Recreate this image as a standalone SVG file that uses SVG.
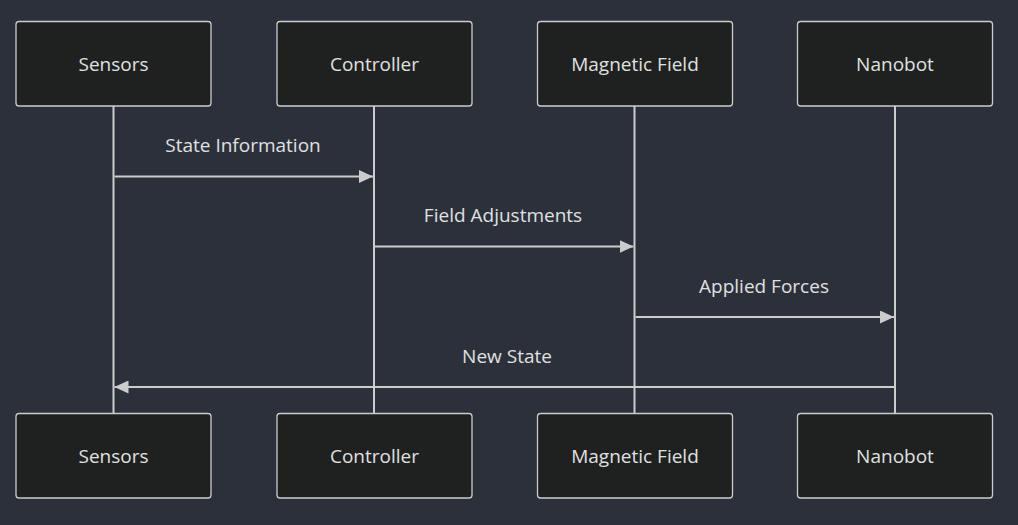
<svg xmlns="http://www.w3.org/2000/svg" width="1018" height="525" viewBox="0 0 1018 525">
<style>
.actor{fill:#1f2020;stroke:#cccccc;stroke-width:1.3}
.atext{fill:#e0e0e0;font-family:"Open Sans","Noto Sans",sans-serif;font-size:19px;font-weight:500;text-anchor:middle;dominant-baseline:central}
.life{stroke:#cccccc;stroke-width:2}
.msg{stroke:#cccccc;stroke-width:2;fill:none}
.mtext{fill:#e0e0e0;font-family:"Open Sans","Noto Sans",sans-serif;font-size:19px;font-weight:500;text-anchor:middle;dominant-baseline:central}
</style>
<defs>
<marker id="arrow" viewBox="0 0 14 13" refX="14" refY="6.5" markerWidth="14" markerHeight="13" markerUnits="userSpaceOnUse" orient="auto">
<path d="M0,0 L14,6.5 L0,13 z" fill="#cccccc"/>
</marker>
</defs>
<rect width="1018" height="525" fill="#2b303b"/>
<g id="lifelines">
<line class="life" x1="113.5" y1="106" x2="113.5" y2="413"/>
<line class="life" x1="374" y1="106" x2="374" y2="413"/>
<line class="life" x1="634.5" y1="106" x2="634.5" y2="413"/>
<line class="life" x1="895" y1="106" x2="895" y2="413"/>
</g>
<g id="sensors-top"><rect class="actor" x="16" y="21.5" width="195" height="84.5" rx="3"/><text class="atext" x="113.5" y="64">Sensors</text></g>
<g id="controller-top"><rect class="actor" x="277" y="21.5" width="195" height="84.5" rx="3"/><text class="atext" x="374.5" y="64">Controller</text></g>
<g id="field-top"><rect class="actor" x="537.5" y="21.5" width="195" height="84.5" rx="3"/><text class="atext" x="635" y="64">Magnetic Field</text></g>
<g id="nanobot-top"><rect class="actor" x="797.5" y="21.5" width="195" height="84.5" rx="3"/><text class="atext" x="895" y="64">Nanobot</text></g>
<g id="sensors-bottom"><rect class="actor" x="16" y="413.5" width="195" height="84.5" rx="3"/><text class="atext" x="113.5" y="456">Sensors</text></g>
<g id="controller-bottom"><rect class="actor" x="277" y="413.5" width="195" height="84.5" rx="3"/><text class="atext" x="374.5" y="456">Controller</text></g>
<g id="field-bottom"><rect class="actor" x="537.5" y="413.5" width="195" height="84.5" rx="3"/><text class="atext" x="635" y="456">Magnetic Field</text></g>
<g id="nanobot-bottom"><rect class="actor" x="797.5" y="413.5" width="195" height="84.5" rx="3"/><text class="atext" x="895" y="456">Nanobot</text></g>
<g id="connectors">
<line class="msg" x1="114.5" y1="176.5" x2="373" y2="176.5" marker-end="url(#arrow)"/>
<text class="mtext" x="243" y="145">State Information</text>
<line class="msg" x1="375" y1="246.5" x2="633.5" y2="246.5" marker-end="url(#arrow)"/>
<text class="mtext" x="503" y="215">Field Adjustments</text>
<line class="msg" x1="635.5" y1="317" x2="894" y2="317" marker-end="url(#arrow)"/>
<text class="mtext" x="764" y="286">Applied Forces</text>
<line class="msg" x1="894" y1="387" x2="114.5" y2="387" marker-end="url(#arrow)"/>
<text class="mtext" x="507" y="356">New State</text>
</g>
</svg>
